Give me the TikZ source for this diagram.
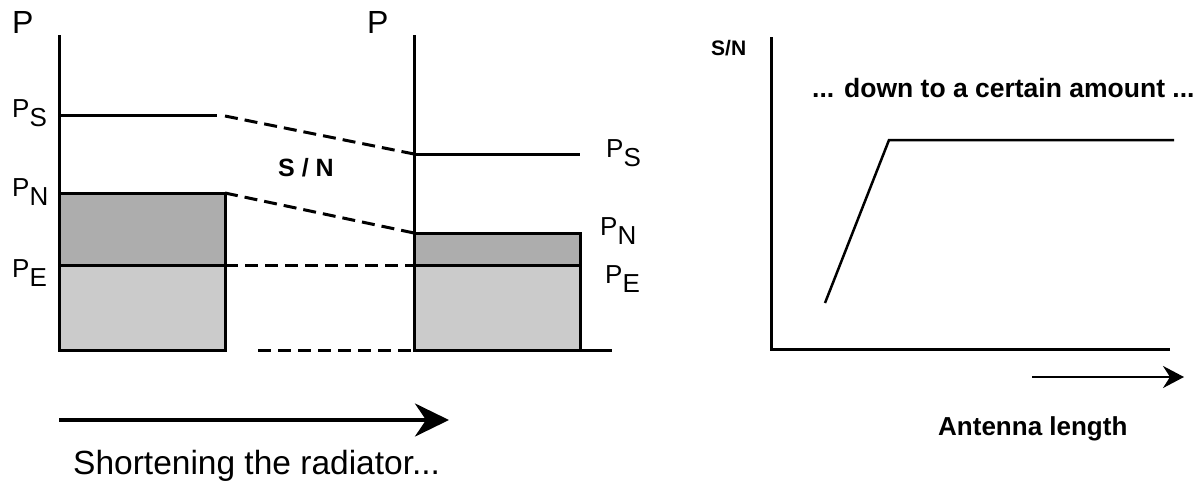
\documentclass[tikz,border=0pt]{standalone}
\usepackage{fontspec}
\setmainfont{Liberation Sans}
\usetikzlibrary{arrows.meta}
\definecolor{noisegray}{HTML}{ADADAD}
\definecolor{dotgray}{HTML}{CBCBCB}
\tikzset{
  axisline/.style={line width=3pt},
  dashline/.style={line width=3pt, dash pattern=on 13pt off 7pt},
  plabel/.style={inner sep=0pt, anchor=base west, font=\fontsize{26}{30}\selectfont},
  toplabel/.style={inner sep=0pt, anchor=base west, font=\fontsize{32}{36}\selectfont},
  boldlabel/.style={inner sep=0pt, font=\bfseries\fontsize{25}{30}\selectfont},
  bigarrow/.style={line width=4pt, -{Stealth[length=34pt,width=33pt,inset=11pt]}},
  smallarrow/.style={line width=2.5pt, -{Stealth[length=21pt,width=22pt,inset=7pt]}},
  curveline/.style={line width=2.5pt}
}
\newcommand{\psub}[1]{P\raisebox{-9pt}{#1}}
\begin{document}
\begin{tikzpicture}[x=1pt,y=-1pt]
\useasboundingbox (0,0) rectangle (1204,493);
% ---- coordinates, left diagram
\coordinate (LaxT) at (59,35);
\coordinate (LaxB) at (59,350);
\coordinate (LpsA) at (59,115);
\coordinate (LpsB) at (217,115);
\coordinate (LpsD) at (225,116);
\coordinate (LpnT) at (225,193);
\coordinate (LpeR) at (225,265);
\coordinate (LbaseD) at (258,350);
\coordinate (RaxT) at (414,35);
\coordinate (RaxB) at (414,350);
\coordinate (RpsA) at (414,154);
\coordinate (RpsB) at (580,154);
\coordinate (RpnL) at (414,233);
\coordinate (RpeL) at (414,265);
\coordinate (RbaseE) at (612,350);
% fills
\fill[dotgray] (59,265) rectangle (225,350);
\fill[noisegray] (59,193) rectangle (225,265);
\fill[dotgray] (414,265) rectangle (580,350);
\fill[noisegray] (414,233) rectangle (580,265);
\draw[axisline] (59,193) rectangle (225,350);
\draw[axisline] (59,265) -- (LpeR);
\draw[axisline] (414,233) rectangle (580,350);
\draw[axisline] (414,265) -- (580,265);
% axes
\draw[axisline] (LaxT) -- (LaxB);
\draw[axisline] (RaxT) -- (RaxB);
\draw[axisline] (RaxB) -- (RbaseE);
\draw[axisline] (LpsA) -- (LpsB);
\draw[axisline] (RpsA) -- (RpsB);
% dashed connectors
\draw[dashline] (LpsD) -- (RpsA);
\draw[dashline] (LpnT) -- (RpnL);
\draw[dashline] (LpeR) -- (RpeL);
\draw[dashline] (LbaseD) -- (RaxB);
% labels
\node[toplabel] (p1) at (12,33) {P};
\node[toplabel] (p2) at (367,33) {P};
\node[plabel] (lps) at (12,117) {\psub{S}};
\node[plabel] (lpn) at (12,196) {\psub{N}};
\node[plabel] (lpe) at (12,277) {\psub{E}};
\node[plabel] (rps) at (606,157) {\psub{S}};
\node[plabel] (rpn) at (600,235) {\psub{N}};
\node[plabel] (rpe) at (605,283) {\psub{E}};
\node[boldlabel, anchor=base] (sn) at (306,176) {S / N};
% big arrow
\coordinate (BA1) at (59,420);
\coordinate (BA2) at (449,420);
\draw[bigarrow] (BA1) -- (BA2);
\node[inner sep=0pt, anchor=base west, font=\fontsize{33.5}{40}\selectfont] (shorten) at (73,474) {Shortening the radiator...};
% ---- right plot
\coordinate (AxT) at (771,37);
\coordinate (AxO) at (771,349);
\coordinate (AxR) at (1170,349);
\draw[axisline] (AxT) -- (AxO) -- (AxR);
\coordinate (C1) at (825,303);
\coordinate (C2) at (889,140);
\coordinate (C3) at (1174,140);
\draw[curveline] (C1) -- (C2) -- (C3);
\coordinate (SA1) at (1032,377);
\coordinate (SA2) at (1184,377);
\draw[smallarrow] (SA1) -- (SA2);
\node[inner sep=0pt, anchor=base west, font=\bfseries\fontsize{21}{25}\selectfont] (snaxis) at (711,55) {S/N};
\node[inner sep=0pt, anchor=base west, font=\bfseries\fontsize{26.5}{31}\selectfont] (down) at (812,97) {... down to a certain amount ...};
\node[inner sep=0pt, anchor=base west, font=\bfseries\fontsize{26}{31}\selectfont] (antenna) at (938,435) {Antenna length};
\end{tikzpicture}
\end{document}
